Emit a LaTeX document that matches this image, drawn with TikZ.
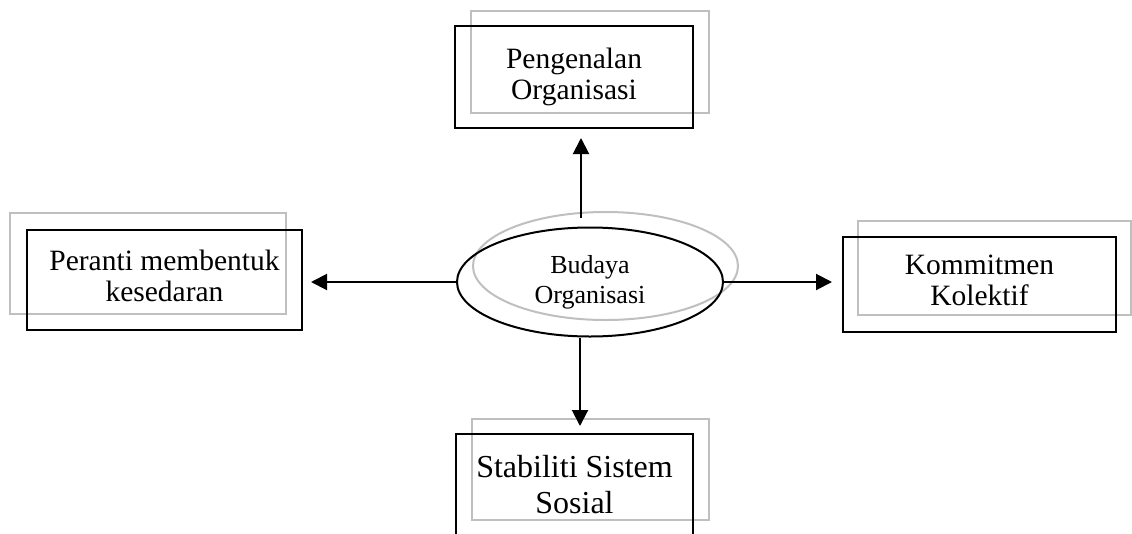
\documentclass[tikz,border=0pt]{standalone}
\usepackage{fontspec}
\setmainfont{Liberation Serif}
\usetikzlibrary{arrows.meta,shapes.geometric}
\begin{document}
\begin{tikzpicture}[x=1pt,y=-1pt,
  box/.style={draw=black,line width=2pt,rectangle,inner sep=0pt,align=center,
    font=\fontsize{29.5}{31}\selectfont},
  ghost/.style={draw=black!25,line width=2pt,rectangle,inner sep=0pt},
  oval/.style={draw=black,line width=2pt,ellipse,inner sep=0pt,align=center,
    font=\fontsize{26}{30}\selectfont},
  ghostoval/.style={draw=black!25,line width=2pt,ellipse,inner sep=0pt},
  arr/.style={line width=2pt,-{Triangle[length=16pt,width=16pt]}},
]
\clip (0,0) rectangle (1132,533);

% grey offset frames behind the boxes
\node[ghost,minimum width=238,minimum height=102] (gtop) at (590,62) {};
\node[ghost,minimum width=276,minimum height=101] (gleft) at (148,263.5) {};
\node[ghost,minimum width=273,minimum height=94] (gright) at (994.5,268) {};
\node[ghost,minimum width=237,minimum height=101] (gbottom) at (590.5,469.5) {};
\node[ghostoval,minimum width=265,minimum height=108] (gbud) at (605.5,266) {};

% main boxes
\node[box,minimum width=238,minimum height=102] (toporg) at (574,77)
  {Pengenalan\\Organisasi};
\node[box,minimum width=275,minimum height=100,text depth=8pt] (peranti) at (164.5,280)
  {Peranti membentuk\\kesedaran};
\node[box,minimum width=273,minimum height=95,text depth=8pt] (kolektif) at (979.5,284.5)
  {Kommitmen\\Kolektif};
\node[box,minimum width=237,minimum height=102,
  font=\fontsize{32}{36}\selectfont] (sosial) at (574.5,485)
  {Stabiliti Sistem\\Sosial};

% central ellipse
\node[oval,minimum width=266,minimum height=109] (budaya) at (590,282)
  {Budaya\\Organisasi};

% connectors
\draw[arr] ([xshift=-9pt,yshift=9pt]budaya.north) -- ([xshift=7pt,yshift=-9pt]toporg.south);
\draw[arr,shorten >=8pt] (budaya.west) -- (budaya.west -| peranti.east);
\draw[arr,shorten >=10pt] (budaya.east) -- (budaya.east -| kolektif.west);
\draw[arr,shorten >=7pt] ([xshift=-10pt]budaya.south) -- ([xshift=-10pt]budaya.south |- sosial.north);
\end{tikzpicture}
\end{document}
